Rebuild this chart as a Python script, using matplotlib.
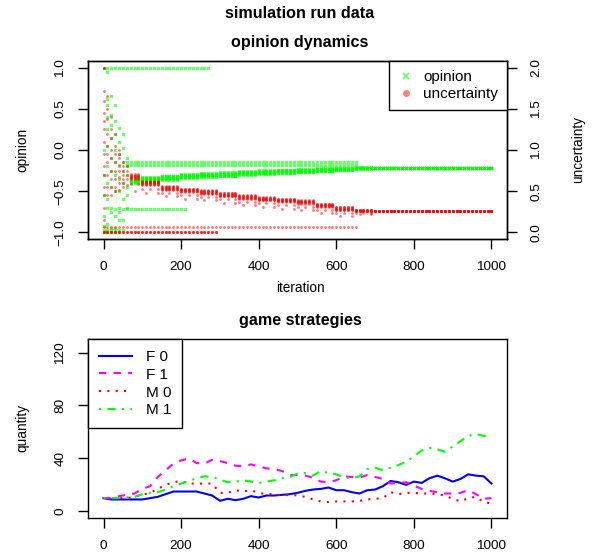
import numpy as np
import matplotlib.pyplot as plt
from matplotlib.lines import Line2D

plt.rcParams['font.family'] = ['Liberation Sans', 'DejaVu Sans']

# ---- opinion dynamics data ----
# agents that stay on one value: (value, first iteration, last iteration, number of agents)
op_flat = [(1.0, 0, 270, 1), (-0.141, 60, 650, 1), (-0.186, 60, 650, 1),
           (-0.72, 50, 210, 1), (-0.97, 0, 50, 1), (-1.0, 0, 40, 2)]
unc_flat = [(0.0, 0, 290, 3), (0.061, 0, 650, 1), (2.0, 0, 0, 2)]

# scattered start (iterations 0-60)
early_iter = [0, 10, 20, 30, 40, 50, 60]
early_op = [
    [0.0, -0.3, -0.55, -0.8, -0.92],
    [0.95, 0.62, 0.55, 0.4, 0.25, 0.05, -0.2, -0.4, -0.6, -0.7, -0.9],
    [0.65, 0.42, 0.3, 0.15, -0.1, -0.25, -0.45, -0.7, -0.75, -0.95],
    [0.55, 0.35, 0.2, 0.0, -0.15, -0.3, -0.5, -0.72, -0.8, -0.95],
    [0.27, 0.1, -0.05, -0.2, -0.35, -0.5, -0.7, -0.75, -0.85],
    [0.2, 0.02, -0.15, -0.25, -0.4, -0.6, -0.85],
    [-0.1, -0.2, -0.3, -0.45, -0.55, -0.7],
]
early_unc = [
    [1.72, 1.6, 1.45, 1.35, 1.25, 1.1, 0.95, 0.8, 0.7, 0.55, 0.45, 0.3, 0.15],
    [1.65, 1.5, 1.38, 1.2, 1.05, 0.95, 0.85, 0.7, 0.55, 0.45],
    [1.4, 1.25, 1.15, 1.0, 0.9, 0.75, 0.65, 0.55, 0.45],
    [1.2, 1.05, 0.95, 0.85, 0.75, 0.65, 0.55, 0.5],
    [1.0, 0.95, 0.9, 0.82, 0.75, 0.67, 0.6, 0.52],
    [0.85, 0.8, 0.75, 0.7, 0.65, 0.6, 0.55],
    [0.8, 0.75, 0.7, 0.65, 0.58],
]

# main cluster, read per 50-iteration block
block_start = [50, 100, 150, 200, 250, 300, 350, 400, 450, 500,
               550, 600, 650, 700, 750, 800, 850, 900, 950, 1000]
op_center = [-0.37, -0.355, -0.335, -0.315, -0.305, -0.295, -0.28, -0.27, -0.26, -0.25,
             -0.24, -0.23, -0.218, -0.214, -0.214, -0.214, -0.214, -0.214, -0.214, -0.214]
op_half = [0.035, 0.03, 0.025, 0.025, 0.025, 0.025, 0.022, 0.022, 0.02, 0.02,
           0.02, 0.015, 0.008, 0, 0, 0, 0, 0, 0, 0]
unc_center = [0.68, 0.60, 0.54, 0.51, 0.49, 0.46, 0.43, 0.41, 0.39, 0.37,
              0.33, 0.29, 0.265, 0.259, 0.259, 0.259, 0.259, 0.259, 0.259, 0.259]
unc_half = [0.03, 0.025, 0.022, 0.02, 0.02, 0.02, 0.02, 0.02, 0.02, 0.02,
            0.02, 0.02, 0.01, 0, 0, 0, 0, 0, 0, 0]
unc_tail = [0.15, 0.1, 0.08, 0.08, 0.08, 0.08, 0.08, 0.08, 0.08, 0.08,
            0.08, 0.07, 0.03, 0, 0, 0, 0, 0, 0, 0]
core_pos = [-1, -0.66, -0.33, 0, 0.33, 0.66, 1]
tail_pos = [0.45, 1.0]

# ---- game strategies data ----
strat_iter = np.arange(0, 1001, 20)
f0 = [10, 9, 9, 9, 9, 9, 10, 11, 13, 15, 15, 15, 15, 13.5, 12, 8, 9.5, 8.5, 9.5, 11.5,
      10.5, 12, 12, 12.5, 13, 14, 15.5, 16.5, 17, 18, 16, 16, 14.5, 13.5, 16, 16.5, 19, 23,
      22, 20, 22.5, 21.5, 25, 27, 25, 22.5, 24.5, 28, 27, 26.5, 21]
f1 = [10, 10, 11.5, 12.5, 13.5, 17, 19, 26, 31, 36, 38.5, 40, 36.5, 36, 39, 38, 36.5, 34.5,
      34, 35.5, 34, 32.5, 32, 30.5, 27.5, 27.5, 27, 25.5, 22.5, 22, 23.5, 26.5, 26, 25.5,
      27.5, 26, 24.5, 21, 21.5, 22, 19.5, 17, 15.5, 14.5, 13.5, 13.5, 14, 16, 13, 9.5, 10]
m0 = [10, 10, 10, 10, 11, 12.5, 14, 17, 20, 22, 23, 21, 21, 21, 21, 14, 14, 16, 15, 16,
      14, 13, 13, 12, 12.5, 12, 11, 9, 7.5, 7, 7.5, 7.5, 7.5, 8, 9, 9.5, 10, 14.5, 13, 14,
      14, 13.5, 13.5, 13, 12, 9.5, 7.5, 10, 11, 7, 6]
m1 = [10, 10, 10, 10.5, 11, 13, 14, 14.5, 16.5, 19, 21, 23, 25, 26.5, 26, 24, 22, 22.5,
      23.5, 22.5, 21.5, 22.5, 23.5, 25, 26, 28.5, 29, 27, 30.5, 29, 28, 25.5, 25, 26.5, 32,
      33, 31, 33, 35, 37.5, 41.5, 46, 48, 47, 45, 49, 53, 57, 58.5, 57, 57]

green = '#00FF00'
red = '#FF0000'

# collect points
op_x, op_y = [], []
for v, a, b, n in op_flat:
    its = np.arange(a, b + 1, 10)
    op_x += list(its) * n
    op_y += [v] * len(its) * n
for it, vals in zip(early_iter, early_op):
    op_x += [it] * len(vals)
    op_y += vals

unc_x, unc_y = [], []
for v, a, b, n in unc_flat:
    its = np.arange(a, b + 1, 10)
    unc_x += list(its) * n
    unc_y += [v] * len(its) * n
for it, vals in zip(early_iter, early_unc):
    unc_x += [it] * len(vals)
    unc_y += vals

for i, b in enumerate(block_start):
    its = np.arange(max(b, 70), min(b + 50, 1001), 10)
    for p in core_pos:
        op_x += list(its)
        op_y += [op_center[i] + p * op_half[i]] * len(its)
        unc_x += list(its)
        unc_y += [unc_center[i] + p * unc_half[i]] * len(its)
    for p in tail_pos:
        if unc_tail[i] > 0:
            sub = its[::2] if p < 1 else its[1::3]
            unc_x += list(sub)
            unc_y += [unc_center[i] - unc_half[i] - p * unc_tail[i]] * len(sub)

fig = plt.figure(figsize=(6, 5.6), dpi=100)

# ---- top panel ----
ax = fig.add_axes([88 / 600, 1 - 239 / 560, 419 / 600, 178 / 560])
ax.plot(op_x, op_y, 'x', color=green, ms=2.0, mew=1.0, alpha=0.6, linestyle='none')
ax.set_xlim(-40, 1040)
ax.set_ylim(-1.08, 1.08)
ax.set_xticks([0, 200, 400, 600, 800, 1000])
ax.set_yticks([-1, -0.5, 0, 0.5, 1])
ax.set_yticklabels(['\u22121.0', '\u22120.5', '0.0', '0.5', '1.0'])

ax2 = ax.twinx()
ax2.plot(unc_x, unc_y, 'o', color=red, ms=2.1, mew=0, alpha=0.5, linestyle='none')
ax2.set_ylim(-0.08, 2.08)
ax2.set_yticks([0, 0.5, 1.0, 1.5, 2.0])
ax2.set_yticklabels(['0.0', '0.5', '1.0', '1.5', '2.0'])

handles = [Line2D([], [], marker='x', color=green, alpha=0.6, linestyle='none', ms=5, mew=1.3),
           Line2D([], [], marker='o', color=red, alpha=0.5, linestyle='none', ms=5, mew=0)]
leg = ax2.legend(handles, ['opinion', 'uncertainty'], loc='upper right', borderaxespad=0,
                 fancybox=False, edgecolor='black', fontsize=11, handlelength=1.0,
                 handletextpad=0.6, labelspacing=0.2, borderpad=0.6, framealpha=1)
leg.get_frame().set_linewidth(1.0)

# ---- bottom panel ----
bx = fig.add_axes([88 / 600, 1 - 518 / 560, 419 / 600, 178.7 / 560])
bx.plot(strat_iter, f0, color='#0000FF', lw=1.5, label='F 0')
bx.plot(strat_iter, f1, color='#FF00FF', lw=1.5, dashes=(3.5, 3.5), label='F 1')
bx.plot(strat_iter, m0, color=red, lw=1.5, dashes=(1, 3), label='M 0')
bx.plot(strat_iter, m1, color=green, lw=1.5, dashes=(1, 3, 4, 3), label='M 1')
bx.set_xlim(-40, 1040)
bx.set_ylim(-5, 130)
bx.set_xticks([0, 200, 400, 600, 800, 1000])
bx.set_yticks([0, 40, 80, 120])
leg2 = bx.legend(loc='upper left', borderaxespad=0, fancybox=False, edgecolor='black',
                 fontsize=11, handlelength=2.2, handletextpad=0.9, labelspacing=0.25,
                 borderpad=0.7, framealpha=1)
leg2.get_frame().set_linewidth(1.0)

for a in (ax, ax2, bx):
    for s in a.spines.values():
        s.set_linewidth(1.0)
    a.tick_params(direction='out', length=7.2, width=1.0, labelsize=9.7, pad=8.4)
    a.tick_params(axis='y', labelrotation=90)
ax2.tick_params(axis='y', pad=9.5)
for a in (ax, ax2, bx):
    for lab in a.get_yticklabels():
        lab.set_va('center')

# titles and axis labels
fig.text(0.5, 1 - 13 / 560, 'simulation run data', ha='center', va='center',
         fontsize=11.6, fontweight='bold')
fig.text(0.5, 1 - 43 / 560, 'opinion dynamics', ha='center', va='center',
         fontsize=11.6, fontweight='bold')
fig.text(0.5, 1 - 321 / 560, 'game strategies', ha='center', va='center',
         fontsize=11.6, fontweight='bold')
fig.text(0.5, 1 - 288 / 560, 'iteration', ha='center', va='center', fontsize=9.8)
fig.text(22 / 600, 1 - 150 / 560, 'opinion', ha='center', va='center', rotation=90,
         fontsize=9.8)
fig.text(578 / 600, 1 - 150 / 560, 'uncertainty', ha='center', va='center', rotation=90,
         fontsize=9.8)
fig.text(22 / 600, 1 - 428 / 560, 'quantity', ha='center', va='center', rotation=90,
         fontsize=9.8)

fig.savefig('out.png', dpi=100)
